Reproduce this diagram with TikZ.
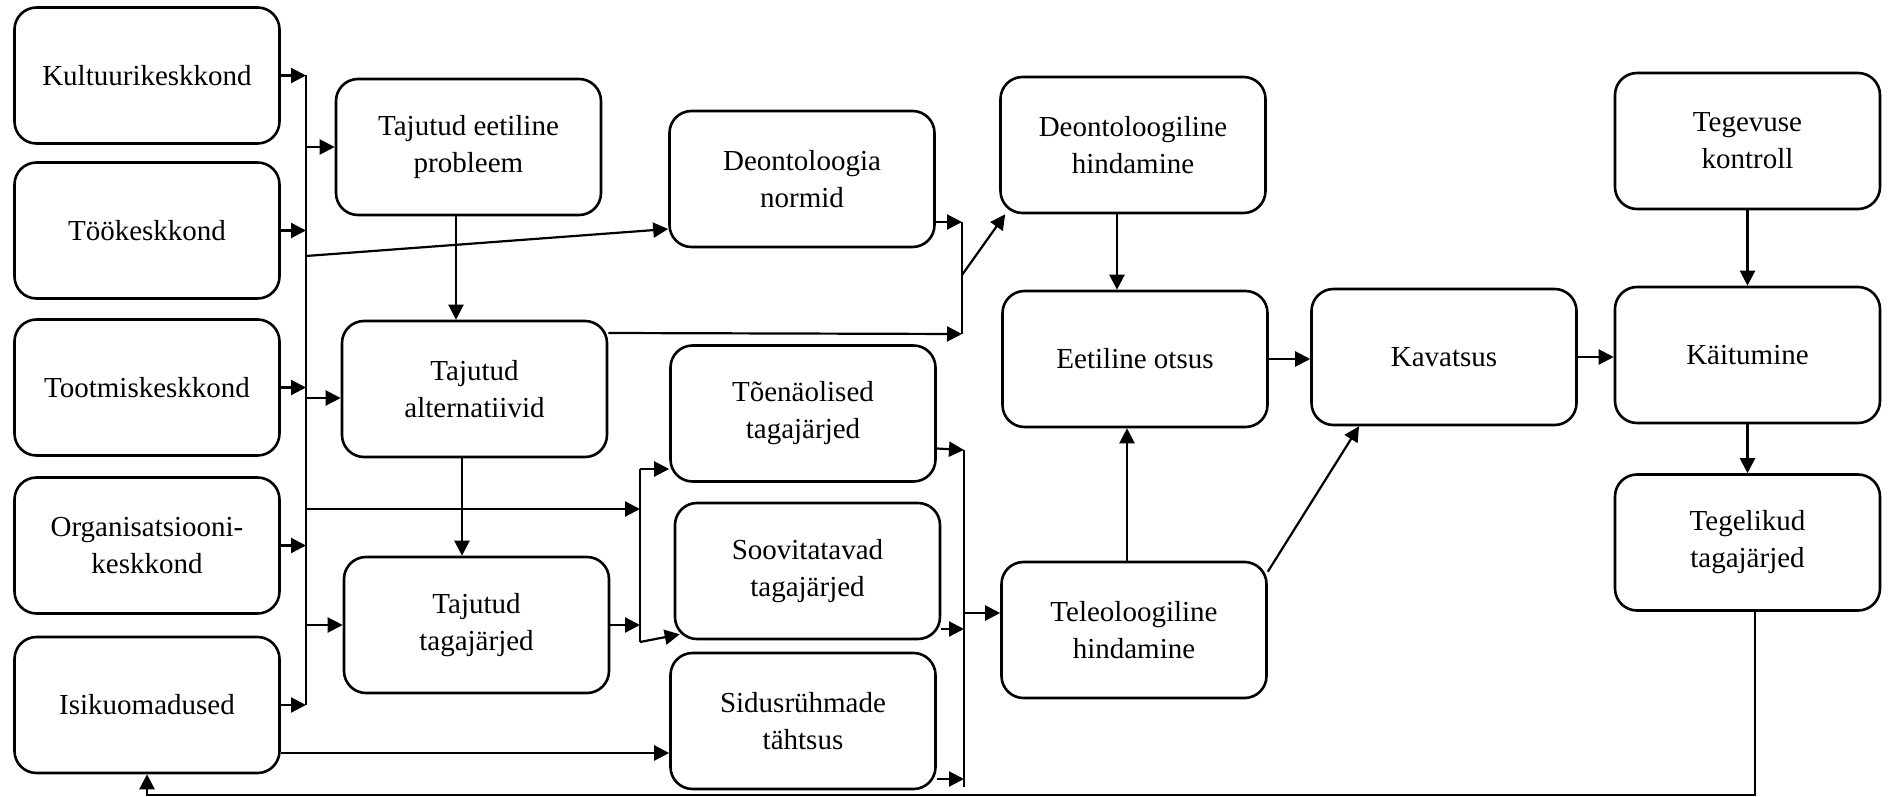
\documentclass[tikz,border=0pt]{standalone}
\usepackage{fontspec}
\setmainfont{Liberation Serif}
\usetikzlibrary{arrows.meta}

\begin{document}
\begin{tikzpicture}[x=0.5pt,y=-0.5pt,
        box/.style={draw,line width=1.3pt,rounded corners=11pt,minimum width=132.5pt,
            minimum height=68pt,align=center,inner sep=2pt,
            font=\fontsize{14.5}{18.5}\selectfont},
        arr/.style={line width=1.1pt,-{Triangle[length=7.5pt,width=7.5pt]}},
        ln/.style={line width=1.1pt}]
        \useasboundingbox (0,0) rectangle (1892,797);

        \node[box] (kultuur) at (147,75.5) {Kultuurikeskkond};
        \node[box] (too) at (147,230.5) {Töökeskkond};
        \node[box] (tootmis) at (147,387.5) {Tootmiskeskkond};
        \node[box] (org) at (147,545.5) {Organisatsiooni-\\keskkond};
        \node[box] (isiku) at (147,705) {Isikuomadused};

        \node[box] (tep) at (468.5,147) {Tajutud eetiline\\probleem};
        \node[box] (talt) at (474.5,389) {Tajutud\\alternatiivid};
        \node[box] (ttag) at (476.5,625) {Tajutud\\tagajärjed};

        \node[box] (dnorm) at (802,179) {Deontoloogia\\normid};
        \node[box] (toen) at (803,413.5) {Tõenäolised\\tagajärjed};
        \node[box] (soov) at (807.5,571) {Soovitatavad\\tagajärjed};
        \node[box] (sidus) at (803,721) {Sidusrühmade\\tähtsus};

        \node[box] (dhind) at (1133,145) {Deontoloogiline\\hindamine};
        \node[box] (eotsus) at (1135,359) {Eetiline otsus};
        \node[box] (thind) at (1134,630) {Teleoloogiline\\hindamine};

        \node[box] (kavats) at (1444,357) {Kavatsus};
        \node[box] (tegkontr) at (1747.5,141) {Tegevuse\\kontroll};
        \node[box] (kaitum) at (1747.5,355) {Käitumine};
        \node[box] (tegtag) at (1747.5,542.5) {Tegelikud\\tagajärjed};

        \coordinate (b1) at (306,0);
        \coordinate (b2) at (640,0);
        \coordinate (b3) at (964,0);
        \coordinate (b4) at (962,0);
        \coordinate (fb) at (0,795);

        % left side into the first bus
        \draw[ln] (kultuur.east -| b1) -- (isiku.east -| b1);
        \foreach \n in {kultuur,too,tootmis,org,isiku}
            \draw[arr] (\n.east) -- (\n.east -| b1);
        \draw[arr] (tep.west -| b1) -- (tep.west);
        \draw[arr] ([yshift=-4.5pt]talt.west -| b1) -- ([yshift=-4.5pt]talt.west);
        \draw[arr] (ttag.west -| b1) -- (ttag.west);
        \coordinate (d1) at (306,256);
        \coordinate (d2) at (306,509);
        \draw[arr] (d1) -- ([yshift=-25pt]dnorm.west);
        \draw[arr] (d2) -- (d2 -| b2);
        \draw[arr] ([yshift=-24pt]isiku.east) -- ([yshift=-24pt]isiku.east -| sidus.west);

        \draw[arr] ([xshift=-6.25pt]tep.south) -- ([xshift=-6.25pt]tep.south |- talt.north);
        \draw[arr] ([xshift=-6.25pt]talt.south) -- ([xshift=-6.25pt]talt.south |- ttag.north);

        % second bus
        \coordinate (b2t) at (640,469);
        \coordinate (b2b) at (640,642);
        \draw[ln] (b2t) -- (b2b);
        \draw[arr] (ttag.east) -- (ttag.east -| b2);
        \draw[arr] (b2t) -- (b2t -| toen.west);
        \draw[arr] (b2b) -- ([shift={(3pt,3pt)}]soov.south west);

        % third bus
        \coordinate (b3t) at (964,450);
        \coordinate (b3b) at (964,787);
        \draw[ln] (b3t) -- (b3b);
        \draw[arr] ([yshift=-17.5pt]toen.east) -- (b3t);
        \draw[arr] ([yshift=-29pt]soov.east) -- ([yshift=-29pt]soov.east -| b3);
        \draw[arr] ([yshift=-29pt]sidus.east) -- ([yshift=-29pt]sidus.east -| b3);
        \draw[arr] ([yshift=8.5pt]thind.west -| b3) -- ([yshift=8.5pt]thind.west);

        % fourth bus
        \coordinate (b4t) at (962,222);
        \coordinate (b4b) at (962,334);
        \coordinate (b4m) at (962,275);
        \draw[ln] (b4t) -- (b4b);
        \draw[arr] ([yshift=-21.5pt]dnorm.east) -- ([yshift=-21.5pt]dnorm.east -| b4);
        \draw[arr] ([yshift=28pt]talt.east) -- (b4b);
        \draw[arr] (b4m) -- ([xshift=3pt]dhind.south west);

        \draw[arr] ([xshift=-8pt]dhind.south) -- ([xshift=-8pt]dhind.south |- eotsus.north);
        \draw[arr] ([xshift=-3.5pt]thind.north) -- ([xshift=-3.5pt]thind.north |- eotsus.south);
        \draw[arr] ([yshift=-5.5pt]thind.north east) -- ([xshift=-42.5pt]kavats.south);
        \draw[arr] (eotsus.east) -- (eotsus.east -| kavats.west);
        \draw[arr] (kavats.east) -- (kavats.east -| kaitum.west);
        \draw[arr] (tegkontr.south) -- (kaitum.north);
        \draw[arr] (kaitum.south) -- (tegtag.north);
        \draw[arr] ([xshift=3.75pt]tegtag.south) -- ([xshift=3.75pt]tegtag.south |- fb) -| (isiku.south);
\end{tikzpicture}
\end{document}
